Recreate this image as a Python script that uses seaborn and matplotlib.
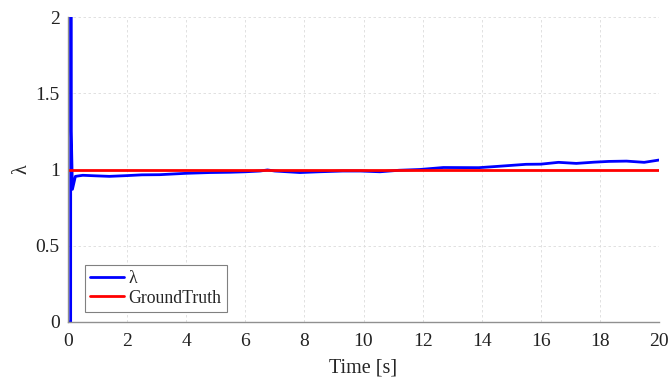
import numpy as np
import pandas as pd
import matplotlib
matplotlib.use("Agg")
import matplotlib.pyplot as plt
import seaborn as sns

# Data
time_s = [0.0, 0.09, 0.095, 0.11, 0.15, 0.25, 0.5, 1.0, 1.4, 2.0, 2.5, 3.1, 3.5, 4.0, 4.8,
          5.5, 6.0, 6.5, 6.75, 7.0, 7.85, 8.5, 9.3, 9.9, 10.56, 11.2, 11.9, 12.7, 13.9,
          14.5, 15.5, 16.0, 16.6, 17.2, 17.8, 18.3, 18.9, 19.5, 20.0]
lam = [0.0, 0.0, 6.0, 1.25, 0.87, 0.955, 0.962, 0.958, 0.955, 0.96, 0.965, 0.966, 0.97,
       0.975, 0.98, 0.982, 0.985, 0.99, 0.997, 0.99, 0.98, 0.985, 0.99, 0.99, 0.985,
       0.995, 1.0, 1.013, 1.012, 1.02, 1.034, 1.035, 1.047, 1.04, 1.048, 1.053, 1.055,
       1.047, 1.062]
ground_truth = 1.0
x_ticks = list(range(0, 21, 2))
y_ticks = [0, 0.5, 1, 1.5, 2]

sns.set_theme(style="whitegrid")
plt.rcParams['font.family'] = ['Liberation Serif', 'DejaVu Serif']
plt.rcParams['mathtext.fontset'] = 'stix'

df = pd.DataFrame({"t": time_s, "lam": lam})
gt = pd.DataFrame({"t": [0, 20], "gt": [ground_truth, ground_truth]})

fig = plt.figure(figsize=(6.68, 3.79), dpi=100)
ax = fig.add_axes([68/668, 57/379, (659-68)/668, (322-17)/379])

sns.lineplot(data=df, x="t", y="lam", ax=ax, color="#0000ff", lw=2, label="λ",
             estimator=None, sort=False)
sns.lineplot(data=gt, x="t", y="gt", ax=ax, color="#ff0000", lw=2, label="GroundTruth",
             estimator=None)

ax.set_xlim(0, 20)
ax.set_ylim(0, 2)
ax.set_xticks(x_ticks)
ax.set_yticks(y_ticks)
ax.set_yticklabels(["0", "0.5", "1", "1.5", "2"])
ax.set_xlabel("Time [s]", fontsize=14.5, labelpad=6)
ax.set_ylabel("λ", fontsize=14.5, labelpad=3)
ax.tick_params(axis="both", labelsize=14, direction="in", length=4, color="#404040",
               colors="#222222")
ax.tick_params(axis="x", pad=8)
ax.tick_params(axis="y", pad=6)
ax.set_facecolor("white")
ax.grid(True, color="#dcdcdc", linestyle=(0, (3, 3)), linewidth=0.6)
for s in ["top", "right"]:
    ax.spines[s].set_visible(False)
for s in ["left", "bottom"]:
    ax.spines[s].set_color("#909090")
    ax.spines[s].set_linewidth(1.0)

leg = ax.legend(loc="lower left", fontsize=12.8, frameon=True, fancybox=False,
                borderaxespad=0.0, handlelength=1.9, handletextpad=0.25,
                borderpad=0.3, labelspacing=0.15, bbox_to_anchor=(0.029, 0.033))
leg.get_frame().set_edgecolor("#808080")
leg.get_frame().set_linewidth(0.8)
leg.get_frame().set_alpha(1)

fig.savefig("out.png", dpi=100)
